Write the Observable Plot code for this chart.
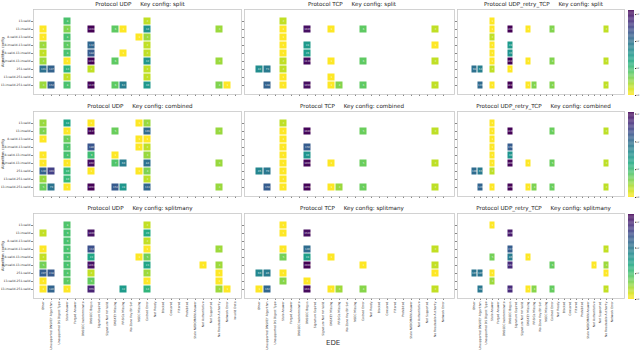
<!DOCTYPE html>
<html><head><meta charset="utf-8">
<script src="https://cdn.jsdelivr.net/npm/d3@7"></script>
<script src="https://cdn.jsdelivr.net/npm/@observablehq/plot@0.6"></script>
<style>
body{margin:0;background:#fff;}
#chart{position:relative;width:640px;height:356px;font-family:"DejaVu Sans",sans-serif;overflow:hidden;background:#fff}
#chart > *{position:absolute}
.ttl{font-size:5.6px;color:#222;white-space:pre;text-align:center}
</style></head><body><div id="chart"></div>
<script>
const edeLabels = ["Other","Unsupported DNSKEY Algorithm","Unsupported DS Digest Type","Stale Answer","Forged Answer","DNSSEC Indeterminate","DNSSEC Bogus","Signature Expired","Signature Not Yet Valid","DNSKEY Missing","RRSIGs Missing","No Zone Key Bit Set","NSEC Missing","Cached Error","Not Ready","Blocked","Censored","Filtered","Prohibited","Stale NXDOMAIN Answer","Not Authoritative","Not Supported","No Reachable Authority","Network Error","Invalid Data"];
const configs = ["13-valid","13-invalid","8-valid-13-valid","8-invalid-13-valid","8-valid-13-invalid","8-invalid-13-invalid","251-valid","13-valid-251-valid","13-invalid-251-valid"];
const protocols = ["UDP","TCP","UDP_retry_TCP"];
const keyConfigs = ["split","combined","splitmany"];
const edeCount = [25, 24, 24];
// cells: [EDE index, config index, count]
const udp_split = [[0,1,1],[0,2,1],[0,3,3],[0,4,2],[0,5,3],[0,6,101],[0,8,3],[1,6,147],[1,8,152],
 [3,0,8],[3,1,4],[3,2,8],[3,3,6],[3,4,8],[3,5,1],[3,6,13],[3,7,2],[3,8,8],
 [6,1,1408],[6,3,132],[6,4,184],[6,5,1393],[6,6,2],[6,8,1329],
 [9,1,6],[9,5,6],[9,8,6],[10,1,1],[10,4,1],[10,8,63],[12,2,1],
 [13,0,2],[13,1,34],[13,2,3],[13,3,2],[13,4,2],[13,5,32],[13,6,2],[13,7,2],[13,8,30],
 [22,1,3],[22,5,3],[22,8,4],[23,8,1]];
const tcp_split = [[0,6,42],[1,6,73],[1,8,148],
 [3,0,2],[3,1,1],[3,2,1],[3,3,1],[3,4,1],[3,5,2],[3,6,2],[3,7,1],[3,8,1],
 [6,1,1046],[6,3,28],[6,4,26],[6,5,1130],[6,8,1090],
 [9,1,1],[9,5,1],[9,7,1],[9,8,1],[10,8,4],[13,1,6],[13,5,6],[13,8,6],
 [22,1,2],[22,3,1],[22,5,2],[22,8,2]];
const retry_split = [[0,6,98],[1,6,64],[1,8,119],
 [3,0,1],[3,1,1],[3,2,2],[3,3,1],[3,4,1],[3,5,1],[3,6,2],[3,8,1],
 [6,1,1408],[6,3,28],[6,4,35],[6,5,1417],[6,6,1],[6,8,1417],
 [9,1,1],[9,5,1],[9,8,1],[10,8,4],[13,1,4],[13,5,4],[13,8,4],
 [22,1,2],[22,5,2],[22,8,2]];
const udp_combined = [[0,0,3],[0,1,4],[0,2,1],[0,4,1],[0,5,1],[0,6,130],[0,7,3],[0,8,5],[1,6,303],[1,8,79],
 [3,0,18],[3,1,1],[3,2,5],[3,3,7],[3,4,8],[3,5,1],[3,6,10],[3,7,10],[3,8,1],
 [6,0,1],[6,1,1137],[6,3,180],[6,4,9],[6,5,892],[6,6,1],[6,8,1092],
 [9,1,5],[9,4,1],[9,5,7],[9,8,153],[10,5,60],[10,8,28],
 [12,0,1],[12,2,1],[12,3,1],[12,6,1],
 [13,0,3],[13,1,101],[13,2,1],[13,3,2],[13,4,3],[13,5,84],[13,6,4],[13,7,2],[13,8,113],
 [22,1,3],[22,5,3],[22,8,3]];
const tcp_combined = [[0,6,45],[1,6,70],[1,8,150],
 [3,0,2],[3,1,1],[3,2,1],[3,3,1],[3,4,1],[3,5,1],[3,6,1],[3,7,1],[3,8,1],
 [6,1,1040],[6,3,150],[6,4,30],[6,5,1000],[6,8,1050],
 [9,5,1],[9,8,1],[10,8,3],[13,1,5],[13,5,5],[13,8,5],
 [22,1,2],[22,5,2],[22,8,2]];
const retry_combined = [[0,6,100],[1,6,65],[1,8,120],
 [3,0,1],[3,1,1],[3,2,1],[3,3,1],[3,4,1],[3,5,1],[3,6,2],[3,8,1],
 [6,1,1100],[6,3,150],[6,4,30],[6,5,1000],[6,8,1050],
 [9,5,1],[9,8,1],[10,8,4],[13,1,5],[13,5,5],[13,8,5],
 [22,1,2],[22,5,2],[22,8,2]];
const udp_splitmany = [[0,1,2],[0,3,1],[0,4,2],[0,5,5],[0,6,207],[0,7,1],[0,8,1],[1,6,238],[1,8,180],
 [3,0,8],[3,1,9],[3,2,9],[3,3,9],[3,4,9],[3,5,9],[3,6,8],[3,7,7],[3,8,1],
 [6,1,1400],[6,3,314],[6,4,22],[6,5,1463],[6,6,2],[6,7,6],[6,8,955],
 [10,8,32],[12,4,1],
 [13,0,2],[13,1,20],[13,2,2],[13,3,1],[13,4,5],[13,5,23],[13,6,3],[13,7,1],[13,8,14],
 [20,5,1],[22,3,3],[22,5,3],[22,6,1],[22,7,1],[22,8,3],[23,8,1]];
const tcp_splitmany = [[0,6,60],[0,8,1],[1,6,86],[1,8,162],
 [3,0,1],[3,1,1],[3,3,1],[3,4,5],[3,6,1],[3,7,4],
 [6,1,1500],[6,3,140],[6,4,28],[6,5,2000],[6,7,1],[6,8,1664],
 [9,4,1],[9,8,1],[10,8,3],[13,5,1],[13,8,4],
 [22,3,2],[22,5,2],[22,6,1],[22,8,2]];
const retry_splitmany = [[0,6,107],[1,6,107],[1,8,98],
 [3,0,1],[3,4,5],[3,6,1],[3,7,3],
 [6,1,1200],[6,3,217],[6,4,86],[6,5,812],[6,8,812],
 [9,4,1],[9,8,1],[10,8,4],[13,5,6],[13,8,6],
 [20,5,1],[22,3,2],[22,5,3],[22,6,1],[22,8,2]];

const panels = [
  [udp_split, tcp_split, retry_split],
  [udp_combined, tcp_combined, retry_combined],
  [udp_splitmany, tcp_splitmany, retry_splitmany]
];

const chart = document.getElementById("chart");
const colX0 = [33, 244, 457], colX1 = [241, 454, 624];
const rowY0 = [9, 111, 213], frameH = 85;
const font = "DejaVu Sans, sans-serif";
const supers = {"0":"⁰","1":"¹","2":"²","3":"³","4":"⁴"};

function place(el, left, top){ el.style.left = left + "px"; el.style.top = top + "px"; chart.appendChild(el); }

panels.forEach((row, i) => {
  const rowMax = d3.max(row.flat(), d => d[2]);
  const colorOpts = {type: "log", scheme: "viridis", reverse: true, domain: [1, rowMax]};
  row.forEach((data, j) => {
    const ml = 34, mr = 2, mt = 2, mb = 50;
    const W = colX1[j] - colX0[j], H = frameH;
    const svg = Plot.plot({
      width: W + ml + mr, height: H + mt + mb,
      marginLeft: ml, marginRight: mr, marginTop: mt, marginBottom: mb,
      style: {background: "transparent", fontFamily: font, fontSize: "3px", color: "#333", overflow: "visible"},
      x: {type: "band", domain: edeLabels.slice(0, edeCount[j]), padding: 0, insetLeft: 5, insetRight: 1,
          tickSize: 2, tickPadding: 1, tickRotate: -90, tickFormat: i === 2 ? (d => d) : null, label: null},
      y: {type: "band", domain: configs, padding: 0, insetTop: 4, insetBottom: 2,
          tickSize: 2, tickPadding: 1, tickFormat: j === 0 ? (d => d) : null, label: null},
      color: colorOpts,
      marks: [
        Plot.frame({stroke: "#c8c8c8", strokeWidth: 0.8}),
        Plot.cell(data, {x: d => edeLabels[d[0]], y: d => configs[d[1]], fill: d => d[2], inset: 0.5}),
        Plot.text(data, {x: d => edeLabels[d[0]], y: d => configs[d[1]], text: d => String(d[2]),
          fontSize: 2.6, fill: "#ffffff", fillOpacity: 0.85})
      ]
    });
    svg.querySelectorAll("[aria-label='x-axis tick'], [aria-label='y-axis tick']").forEach(g => g.setAttribute("stroke", "#888"));
    place(svg, colX0[j] - ml, rowY0[i] - mt);

    const t = document.createElement("div");
    t.className = "ttl";
    t.textContent = `Protocol ${protocols[j]}     Key config: ${keyConfigs[i]}`;
    t.style.width = W + "px";
    place(t, colX0[j] + 3, rowY0[i] - 8);
  });

  // y label
  const yl = document.createElement("div");
  yl.textContent = "Algorithm config";
  yl.style.cssText = "font-size:3.6px;color:#333;white-space:nowrap;transform-origin:0 0;transform:rotate(-90deg)";
  place(yl, 1, rowY0[i] + frameH / 2 + 15);

  // colorbar
  const steps = d3.range(0, 100).map(k => [Math.pow(rowMax, k / 100), Math.pow(rowMax, (k + 1) / 100)]);
  const cticks = [1, 10, 100, 1000].filter(v => v <= rowMax);
  const cb = Plot.plot({
    width: 12, height: frameH + 4, marginLeft: 0, marginRight: 6, marginTop: 2, marginBottom: 2,
    style: {background: "transparent", fontFamily: font, fontSize: "2.2px", color: "#333", overflow: "visible"},
    x: {axis: null, domain: [0, 1]},
    y: {type: "log", domain: [1, rowMax], axis: "right", ticks: cticks, tickSize: 1, tickPadding: 0.5,
        tickFormat: v => "10" + supers[String(Math.round(Math.log10(v)))], label: null},
    color: colorOpts,
    marks: [
      Plot.rect(steps, {x1: 0, x2: 1, y1: d => d[0], y2: d => d[1], fill: d => d[0]})
    ]
  });
  place(cb, 628, rowY0[i] - 1);
});

const ede = document.createElement("div");
ede.textContent = "EDE";
ede.style.cssText = "font-size:7px;color:#333";
place(ede, 326, 339);
</script></body></html>
